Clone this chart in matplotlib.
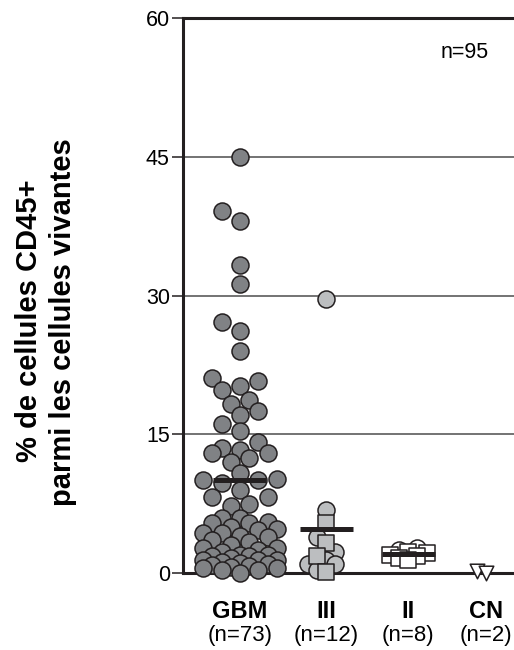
import numpy as np
import matplotlib
matplotlib.use('Agg')
from matplotlib import pyplot as plt

plt.rcParams['font.family'] = ['Liberation Sans', 'DejaVu Sans']

# data
groups = ['GBM', 'III', 'II', 'CN']
counts = ['(n=73)', '(n=12)', '(n=8)', '(n=2)']
total_label = 'n=95'

gbm = [45.0, 39.1, 38.1, 33.3, 31.2, 27.1, 26.2, 24.0,
       21.1, 20.8, 20.2, 19.8, 18.7, 18.3, 17.5, 17.1, 16.1, 15.3,
       14.2, 13.5, 13.3, 13.0, 13.0, 12.4, 12.0,
       10.8, 10.2, 10.1, 10.1, 9.7, 9.0, 8.2, 8.2, 7.5, 7.2,
       6.0, 5.9, 5.5, 5.4, 5.4, 5.0, 4.8, 4.6, 4.3, 4.3, 4.0, 3.9, 3.6, 3.4, 3.0,
       2.7, 2.7, 2.5, 2.3, 2.0, 1.9, 1.8, 1.8, 1.6, 1.4, 1.4, 1.4, 1.2, 1.1,
       1.0, 0.9, 0.8, 0.7, 0.5, 0.5, 0.3, 0.3, 0.05]
iii_circles = [29.6, 6.8, 3.9, 2.3, 1.4, 1.0, 1.0, 0.3]
iii_squares = [5.4, 3.2, 1.8, 0.1]
ii_circles = [2.7, 2.5]
ii_squares = [2.3, 2.2, 2.0, 1.8, 1.6, 1.4]
cn_triangles = [0.2, 0.0]

dark = '#231f20'
series = [  # group index, values, marker, face colour, size
    (0, gbm, 'o', '#808285', 150),
    (1, iii_circles, 'o', '#bcbec0', 150),
    (1, iii_squares, 's', '#bcbec0', 120),
    (2, ii_circles, 'o', 'white', 150),
    (2, ii_squares, 's', 'white', 120),
    (3, cn_triangles, 'v', 'white', 110),
]

fig = plt.figure(figsize=(5.14, 6.5), dpi=100)
ax = fig.add_axes([183/514, 1-573/650, 1-183/514, 555/650])
positions = [1, 2.05, 3.05, 4.0]
ax.set_xlim(0.305, 4.341)
ax.set_ylim(0, 60)

p0 = ax.transData.transform((0, 0))
p1 = ax.transData.transform((1, 1))
kx, ky = p1[0]-p0[0], p1[1]-p0[1]


def swarm(values, step=9.2, dmin=14.0, kmax=4):
    # greedy column scatter in pixel space, width limited to +-kmax columns
    values = np.asarray(values, float)
    offs = np.zeros(len(values))
    placed = []
    ks = [0]
    for k in range(1, kmax+1):
        ks += [-k, k]
    for i in np.argsort(values, kind='stable'):
        y = values[i]*ky
        best, bestd = 0, -1
        for k in ks:
            x = k*step
            d = min([np.hypot(x-px, y-py) for px, py in placed] or [1e9])
            if d >= dmin:
                best = x
                break
            if d > bestd + 0.5:
                best, bestd = x, d
        placed.append((best, y))
        offs[i] = best/kx
    return offs


for g in range(len(groups)):
    parts = [s for s in series if s[0] == g]
    allv = np.concatenate([np.asarray(s[1], float) for s in parts])
    if len(allv) > 20:
        offs = swarm(allv)
    else:
        offs = swarm(allv, dmin=9.0, kmax=2)
    j = 0
    for _, vals, mk, fc, size in parts:
        n = len(vals)
        ax.scatter(positions[g] + offs[j:j+n], vals, marker=mk, s=size,
                   facecolor=fc, edgecolor=dark, linewidth=1.1,
                   zorder=3, clip_on=False)
        j += n
    if g < 3:
        m = allv.mean()
        w = 26.5/kx
        ax.plot([positions[g]-w, positions[g]+w], [m, m], color=dark,
                lw=3.6, solid_capstyle='butt', zorder=5)

for yv in [15, 30, 45]:
    ax.axhline(yv, color='#4d4d4d', lw=1.1, zorder=1)

for side in ['left', 'bottom', 'top']:
    ax.spines[side].set_linewidth(2.2)
    ax.spines[side].set_color(dark)
ax.spines['right'].set_visible(False)

ax.set_yticks([0, 15, 30, 45, 60])
ax.tick_params(axis='y', length=8, width=1.1, pad=1.5, labelsize=15.5,
               color=dark)
ax.set_xticks([])

for g in range(len(groups)):
    ax.text(positions[g], -(618.3-573)/555, groups[g], transform=ax.get_xaxis_transform(),
            ha='center', va='baseline', fontsize=17, fontweight='bold')
    ax.text(positions[g], -(641-573)/555, counts[g], transform=ax.get_xaxis_transform(),
            ha='center', va='baseline', fontsize=16)

fig.text(465/514, 1-58.3/650, total_label, ha='center', va='baseline', fontsize=15.5)
fig.text(29.5/514, 1-321/650, '% de cellules CD45+', rotation=90,
         ha='center', va='center', fontsize=21, fontweight='bold')
fig.text(63.5/514, 1-322/650, 'parmi les cellules vivantes', rotation=90,
         ha='center', va='center', fontsize=21, fontweight='bold')

plt.savefig('out.png', dpi=100)
plt.close()
